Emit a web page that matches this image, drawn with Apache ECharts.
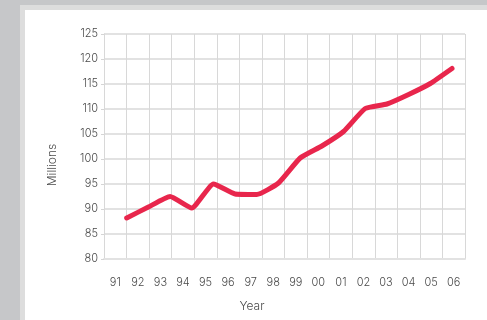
<!DOCTYPE html>
<html>
<head>
<meta charset="utf-8">
<script src="https://cdn.jsdelivr.net/npm/echarts@6/dist/echarts.min.js"></script>
<style>
  html, body { margin: 0; padding: 0; background: #c6c7c9; }
  #chart { width: 487px; height: 320px; }
</style>
</head>
<body>
<div id="chart"></div>
<script>
// Year labels along the bottom axis
const years = ['91', '92', '93', '94', '95', '96', '97', '98', '99', '00', '01', '02', '03', '04', '05', '06'];
// Population, in millions, one value per year
const millions = [88.2, 90.4, 92.5, 90.2, 95.0, 93.0, 92.9, 95.2, 100.2, 102.6, 105.5, 110.1, 111.0, 112.9, 115.1, 118.1];
// Value axis range and step
const yMin = 80;
const yMax = 125;
const yStep = 5;

const chart = echarts.init(document.getElementById('chart'), null, { renderer: 'canvas' });

const labelFont = { fontFamily: 'Inter', fontWeight: 300, fontSize: 11, color: '#4a4a4a' };

chart.setOption({
  backgroundColor: '#c6c7c9',
  animation: false,
  graphic: [
    {
      type: 'rect',
      shape: { x: 22.5, y: 7.5, width: 480, height: 330 },
      style: { fill: '#ffffff', stroke: '#dddddd', lineWidth: 5 },
      z: -10
    },
    {
      type: 'text',
      x: 52, y: 165,
      rotation: Math.PI / 2,
      style: {
        text: 'Millions', fill: '#4a4a4a', font: '300 12px Inter',
        align: 'center', verticalAlign: 'middle'
      }
    },
    {
      type: 'text',
      x: 252, y: 306,
      style: {
        text: 'Year', fill: '#4a4a4a', font: '300 12px Inter',
        align: 'center', verticalAlign: 'middle'
      }
    }
  ],
  grid: [
    { left: 104, right: 22, top: 34, bottom: 61 },
    { left: 126.7, right: 35, top: 34, bottom: 61 }
  ],
  xAxis: [
    {
      gridIndex: 0,
      type: 'category',
      data: years,
      boundaryGap: true,
      axisLine: { show: true, lineStyle: { color: '#e2e2e2', width: 2 } },
      axisTick: { show: false },
      axisLabel: Object.assign({ margin: 18 }, labelFont),
      splitLine: { show: true, interval: 0, lineStyle: { color: '#d8d8d8', width: 1 } }
    },
    {
      gridIndex: 1,
      type: 'category',
      data: years,
      boundaryGap: false,
      show: false
    }
  ],
  yAxis: [
    {
      gridIndex: 0,
      type: 'value',
      min: yMin, max: yMax, interval: yStep,
      axisLine: { show: true, lineStyle: { color: '#d8d8d8', width: 1 } },
      axisTick: { show: true, length: 3, lineStyle: { color: '#d5d5d5' } },
      axisLabel: Object.assign({ margin: 6 }, labelFont),
      splitLine: { show: true, lineStyle: { color: '#e2e2e2', width: 2 } }
    },
    {
      gridIndex: 1,
      type: 'value',
      min: yMin, max: yMax, interval: yStep,
      show: false,
      splitLine: { show: false }
    }
  ],
  series: [
    {
      type: 'line',
      xAxisIndex: 1,
      yAxisIndex: 1,
      data: millions,
      smooth: 0.15,
      symbol: 'none',
      lineStyle: { color: '#e8264c', width: 5, cap: 'round', join: 'round' }
    }
  ]
});
</script>
</body>
</html>
